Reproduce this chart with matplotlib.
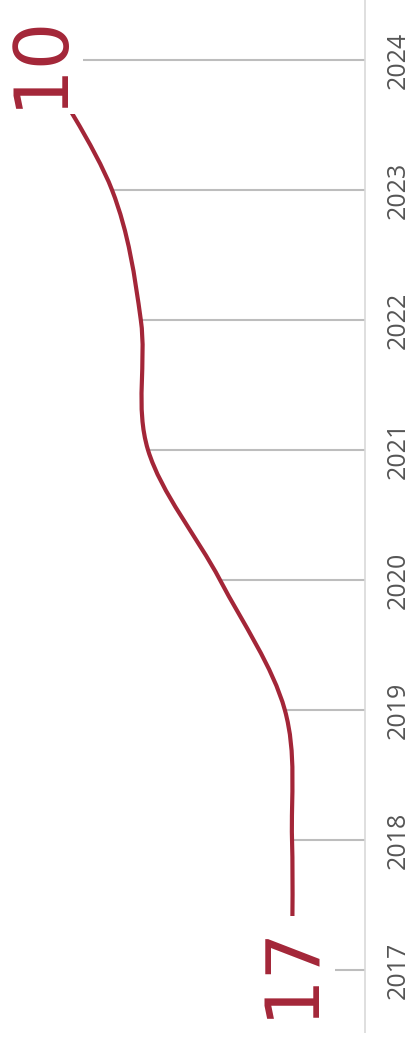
import matplotlib
matplotlib.use("Agg")
import matplotlib.pyplot as plt
from matplotlib.path import Path
from matplotlib.patches import PathPatch
import numpy as np

# Data
years = [2017, 2018, 2019, 2020, 2021, 2022, 2023, 2024]
values = [17.0, 17.0, 16.8, 15.0, 13.0, 12.8, 12.0, 10.0]
year_labels = ["2017", "2018", "2019", "2020", "2021", "2022", "2023", "2024"]

RED = "#a32638"
GRID = "#bdbdbd"
AXIS = "#d9d9d9"

fig = plt.figure(figsize=(4.13, 10.4), dpi=100)
ax = fig.add_axes([0, 0, 1, 1])
ax.set_xlim(8.889, 20.36)
ax.set_ylim(2016.4615, 2024.4615)
ax.axis("off")

x_axis = 19.03  # where the gridlines end / vertical axis line

# smooth catmull-rom curve through the points, drawn as bezier path
pts = np.column_stack([values, years]).astype(float)
ext = np.vstack([pts[0], pts, pts[-1]])
verts = [tuple(pts[0])]
codes = [Path.MOVETO]
for i in range(len(pts) - 1):
    p0, p1, p2, p3 = ext[i], ext[i + 1], ext[i + 2], ext[i + 3]
    c1 = p1 + (p2 - p0) / 6
    c2 = p2 - (p3 - p1) / 6
    verts += [tuple(c1), tuple(c2), tuple(p2)]
    codes += [Path.CURVE4] * 3

# gridlines from the line to the axis
ax.hlines(years, values, x_axis, color=GRID, lw=1.5, zorder=1)
ax.vlines(x_axis, 2016.515, 2024.4615, color=AXIS, lw=1.2, zorder=1)

ax.add_patch(PathPatch(Path(verts, codes), fill=False, edgecolor=RED,
                       lw=3.0, capstyle="butt", zorder=2))

# year labels
for y, lab in zip(years, year_labels):
    ax.text(19.95, y, lab, rotation=90, ha="center", va="center",
            fontsize=18, color="#555555", family="Open Sans")

# end labels
for i in [0, -1]:
    ax.text(values[i], years[i], f"{values[i]:.0f}", rotation=90,
            ha="center", va="center", fontsize=54, color=RED,
            family="DejaVu Sans", zorder=3,
            bbox=dict(boxstyle="square,pad=0.08", fc="white", ec="none"))

fig.savefig("out.png", dpi=100, facecolor="white")
